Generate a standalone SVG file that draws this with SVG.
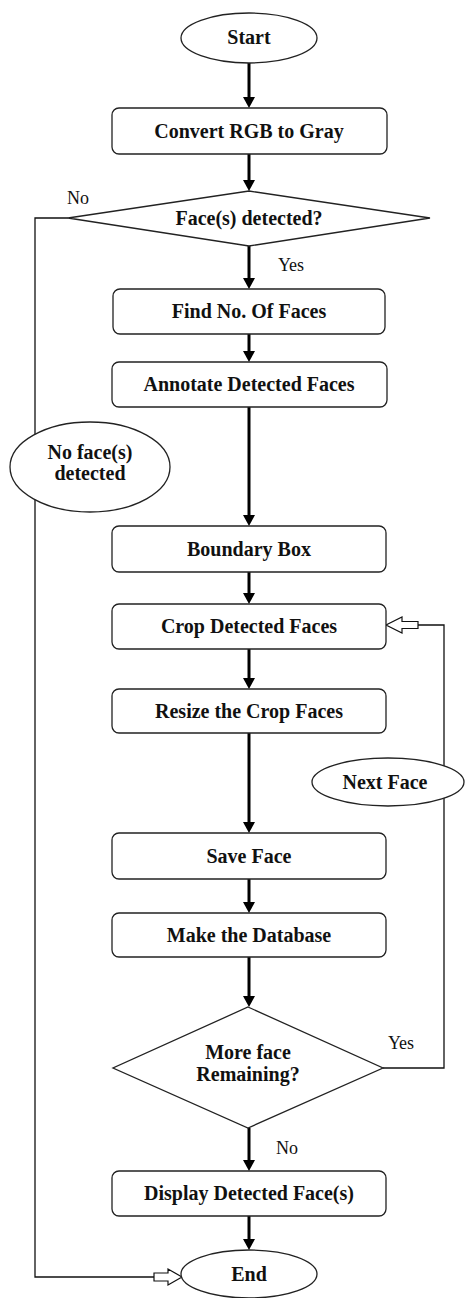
<svg xmlns="http://www.w3.org/2000/svg" width="465" height="1298" viewBox="0 0 465 1298">
<defs>
<marker id="ah" viewBox="0 0 11 12" refX="5" refY="6" markerWidth="11" markerHeight="12" markerUnits="userSpaceOnUse" orient="auto">
<path d="M0,0 L11,6 L0,12 z" fill="#000"/>
</marker>
</defs>
<style>
.box{fill:#fff;stroke:#222;stroke-width:1.3}
.t{font-family:"Liberation Serif","Times New Roman",serif;font-weight:bold;font-size:20px;fill:#111;text-anchor:middle}
.lbl{font-family:"Liberation Serif","Times New Roman",serif;font-size:18px;fill:#111;text-anchor:middle}
.arr{stroke:#000;stroke-width:3;fill:none;marker-end:url(#ah)}
.thin{stroke:#111;stroke-width:1.3;fill:none}
.hollow{fill:#fff;stroke:#111;stroke-width:1.2}
</style>
<rect width="465" height="1298" fill="#fff"/>
<g id="connectors">
<line class="arr" x1="249" y1="63" x2="249" y2="102"/>
<line class="arr" x1="249" y1="154" x2="249" y2="185"/>
<line class="arr" x1="249" y1="246" x2="249" y2="283"/>
<line class="arr" x1="249" y1="334" x2="249" y2="356"/>
<line class="arr" x1="249" y1="407" x2="249" y2="520"/>
<line class="arr" x1="249" y1="572" x2="249" y2="598"/>
<line class="arr" x1="249" y1="649" x2="249" y2="683"/>
<line class="arr" x1="249" y1="733" x2="249" y2="827"/>
<line class="arr" x1="249" y1="879" x2="249" y2="907"/>
<line class="arr" x1="249" y1="957" x2="249" y2="1001"/>
<line class="arr" x1="249" y1="1128" x2="249" y2="1165"/>
<line class="arr" x1="249" y1="1216" x2="249" y2="1244"/>
<polyline class="thin" points="68,218 35,218 35,1277 154,1277"/>
<path class="hollow" d="M154,1273 L168,1273 L168,1269 L182,1277 L168,1285 L168,1281 L154,1281 z"/>
<polyline class="thin" points="383,1068 444,1068 444,625 418,625"/>
<path class="hollow" d="M418,621.5 L402,621.5 L402,617 L386,625 L402,633 L402,628.5 L418,628.5 z"/>
</g>
<g id="start">
<ellipse class="box" cx="249" cy="38" rx="68" ry="25"/>
<text class="t" x="249" y="44">Start</text>
</g>
<g id="convert">
<rect class="box" x="112" y="108" width="275" height="46" rx="7"/>
<text class="t" x="249" y="138">Convert RGB to Gray</text>
</g>
<g id="decision1">
<polygon class="box" points="249,191 430,218 249,246 68,218"/>
<text class="t" x="249" y="225">Face(s) detected?</text>
</g>
<g id="find">
<rect class="box" x="113" y="289" width="272" height="45" rx="7"/>
<text class="t" x="249" y="318">Find No. Of Faces</text>
</g>
<g id="annotate">
<rect class="box" x="112" y="362" width="275" height="45" rx="7"/>
<text class="t" x="249" y="391">Annotate Detected Faces</text>
</g>
<g id="noface">
<ellipse class="box" cx="90" cy="467" rx="80" ry="45"/>
<text class="t" x="90" y="459">No face(s)</text>
<text class="t" x="90" y="480">detected</text>
</g>
<g id="boundary">
<rect class="box" x="112" y="526" width="274" height="46" rx="7"/>
<text class="t" x="249" y="556">Boundary Box</text>
</g>
<g id="crop">
<rect class="box" x="112" y="604" width="274" height="45" rx="7"/>
<text class="t" x="249" y="633">Crop Detected Faces</text>
</g>
<g id="resize">
<rect class="box" x="112" y="689" width="274" height="44" rx="7"/>
<text class="t" x="249" y="718">Resize the Crop Faces</text>
</g>
<g id="nextface">
<ellipse class="box" cx="388" cy="782" rx="76" ry="24"/>
<text class="t" x="385" y="789">Next Face</text>
</g>
<g id="save">
<rect class="box" x="112" y="833" width="274" height="46" rx="7"/>
<text class="t" x="249" y="863">Save Face</text>
</g>
<g id="database">
<rect class="box" x="112" y="913" width="274" height="44" rx="7"/>
<text class="t" x="249" y="942">Make the Database</text>
</g>
<g id="decision2">
<polygon class="box" points="248,1007 383,1068 248,1128 113,1068"/>
<text class="t" x="248" y="1059">More face</text>
<text class="t" x="248" y="1081">Remaining?</text>
</g>
<g id="display">
<rect class="box" x="112" y="1171" width="274" height="45" rx="7"/>
<text class="t" x="249" y="1200">Display Detected Face(s)</text>
</g>
<g id="end">
<ellipse class="box" cx="249" cy="1274" rx="68" ry="24"/>
<text class="t" x="249" y="1281">End</text>
</g>
<g id="labels">
<text class="lbl" x="78" y="204">No</text>
<text class="lbl" x="291" y="271">Yes</text>
<text class="lbl" x="401" y="1049">Yes</text>
<text class="lbl" x="287" y="1154">No</text>
</g>
</svg>
